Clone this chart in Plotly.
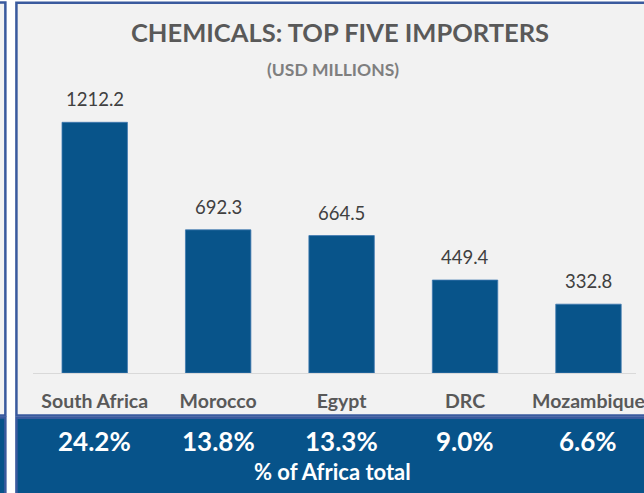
import plotly.graph_objects as go

# Chemical imports, top five African importers (USD millions)
countries = ["South Africa", "Morocco", "Egypt", "DRC", "Mozambique"]
imports_usd_m = [1212.2, 692.3, 664.5, 449.4, 332.8]
share_of_africa = ["24.2%", "13.8%", "13.3%", "9.0%", "6.6%"]

title_text = "CHEMICALS: TOP FIVE IMPORTERS"
subtitle_text = "(USD MILLIONS)"
band_caption = "% of Africa total"

W, H = 644, 493
M_L, M_R, M_T, M_B = 33, 0, 60, 120

BAR_BLUE = "#08548a"
BAND_BLUE = "#07538a"
BORDER_BLUE = "#3a5a9e"
PANEL_GREY = "#f2f2f2"
FONT = "Lato"


def px_x(x):
    """Pixel column -> paper x."""
    return (x - M_L) / (W - M_L - M_R)


def px_y(y):
    """Pixel row (from top) -> paper y."""
    return (H - M_B - y) / (H - M_T - M_B)


fig = go.Figure()

fig.add_trace(go.Bar(
    x=countries,
    y=imports_usd_m,
    width=0.53,
    marker=dict(color=BAR_BLUE, line=dict(color="#3f78b0", width=0.8)),
    hoverinfo="skip",
))

shapes = [
    # neighbouring panel peeking in at the left edge
    dict(type="rect", xref="paper", yref="paper",
         x0=px_x(-20), x1=px_x(5), y0=px_y(2.5), y1=px_y(415.5),
         fillcolor=PANEL_GREY, line=dict(color=BORDER_BLUE, width=2.5), layer="below"),
    dict(type="rect", xref="paper", yref="paper",
         x0=px_x(-20), x1=px_x(5), y0=px_y(417.5), y1=px_y(520),
         fillcolor=BAND_BLUE, line=dict(color=BORDER_BLUE, width=2.5), layer="below"),
    # main chart panel
    dict(type="rect", xref="paper", yref="paper",
         x0=px_x(16.2), x1=px_x(700), y0=px_y(2.8), y1=px_y(415.5),
         fillcolor=PANEL_GREY, line=dict(color=BORDER_BLUE, width=2.5), layer="below"),
    # share band beneath the chart
    dict(type="rect", xref="paper", yref="paper",
         x0=px_x(16.2), x1=px_x(700), y0=px_y(417.8), y1=px_y(520),
         fillcolor=BAND_BLUE, line=dict(color=BORDER_BLUE, width=2.5), layer="below"),
]

annotations = [
    dict(text=title_text, xref="paper", yref="paper", x=px_x(344), y=px_y(32),
         xanchor="center", yanchor="middle", showarrow=False,
         font=dict(family=FONT, size=25.5, color="#595959", weight="bold")),
    dict(text=subtitle_text, xref="paper", yref="paper", x=px_x(337), y=px_y(69),
         xanchor="center", yanchor="middle", showarrow=False,
         font=dict(family=FONT, size=17.5, color="#7f7f7f", weight="bold")),
    dict(text=band_caption, xref="paper", yref="paper", x=px_x(336), y=px_y(471),
         xanchor="center", yanchor="middle", showarrow=False,
         font=dict(family=FONT, size=22, color="white", weight="bold")),
]

# value labels above the bars
for c, v in zip(countries, imports_usd_m):
    annotations.append(dict(
        text=f"{v:.1f}", x=c, y=v, xref="x", yref="y",
        xanchor="center", yanchor="bottom", yshift=10, showarrow=False,
        font=dict(family=FONT, size=18.5, color="#404040"),
    ))

# share of Africa total in the band
for c, s in zip(countries, share_of_africa):
    annotations.append(dict(
        text=s, x=c, xref="x", yref="paper", y=px_y(441),
        xanchor="center", yanchor="middle", showarrow=False,
        font=dict(family=FONT, size=26, color="white", weight="bold"),
    ))

fig.update_layout(
    width=W, height=H,
    margin=dict(l=M_L, r=M_R, t=M_T, b=M_B, pad=0),
    paper_bgcolor="white",
    plot_bgcolor="rgba(0,0,0,0)",
    showlegend=False,
    bargap=0.47,
    shapes=shapes,
    annotations=annotations,
    xaxis=dict(
        type="category",
        range=[-0.5, 4.385],
        showline=True, linecolor="#d9d9d9", linewidth=1,
        showgrid=False, zeroline=False,
        ticks="", ticklabelstandoff=11,
        tickfont=dict(family=FONT, size=19.5, color="#595959", weight="bold"),
        fixedrange=True,
    ),
    yaxis=dict(
        range=[0, 1513.5],
        visible=False, showgrid=False, zeroline=False,
        fixedrange=True,
    ),
)

fig.write_html("out.html")
